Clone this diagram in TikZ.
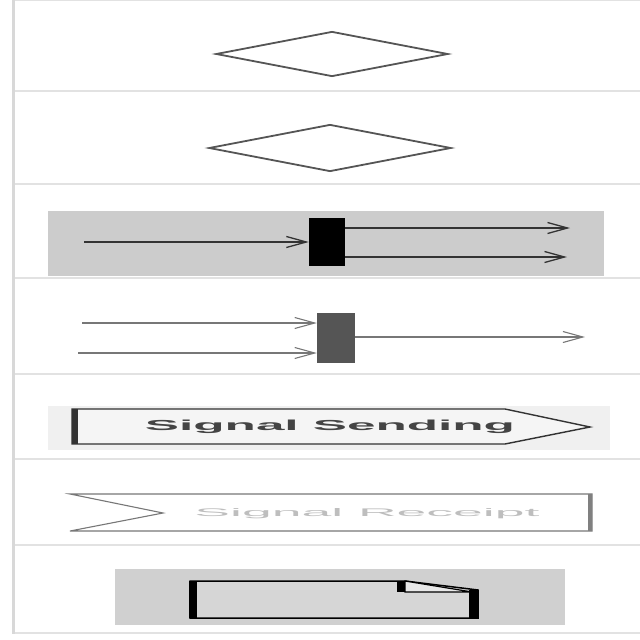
\documentclass[tikz,border=0pt]{standalone}
\usepackage{fontspec}
\setsansfont{Liberation Sans}
\usepackage{graphicx}
\usetikzlibrary{arrows.meta,shapes.geometric}
\definecolor{rowline}{HTML}{E2E2E2}
\definecolor{railgray}{HTML}{D8D8D8}
\definecolor{decgray}{HTML}{555555}
\definecolor{panelgray}{HTML}{CCCCCC}
\definecolor{flowdark}{HTML}{333333}
\definecolor{flowlight}{HTML}{777777}
\definecolor{sendbg}{HTML}{F0F0F0}
\definecolor{sendfill}{HTML}{F5F5F5}
\definecolor{sendtext}{HTML}{444444}
\definecolor{recvtext}{HTML}{BEBEBE}
\definecolor{docbg}{HTML}{D0D0D0}
\definecolor{docfill}{HTML}{D6D6D6}
\definecolor{foldfill}{HTML}{E8E8E8}

\begin{document}
\begin{tikzpicture}[x=1pt,y=-1pt,>={Straight Barb[length=20pt,width=11pt]},
  sep/.style={draw=rowline, line width=1.2pt},
  choice/.style={diamond, draw=decgray, line width=1.8pt, inner sep=0pt},
  bar/.style={rectangle, inner sep=0pt}]
  \useasboundingbox (0,0) rectangle (640,640);
  % rows and rail
  \foreach \y in {0,91,184,278,374,459,545,633}
    \draw[sep] (13,\y) -- (640,\y);
  \draw[railgray, line width=3pt] (13.5,0) -- (13.5,634);

  % decisions
  \node (dec1) [choice, minimum width=232pt, minimum height=45pt] at (332,54) {};
  \node (dec2) [choice, minimum width=242pt, minimum height=47pt] at (330,148) {};

  % fork
  \fill[panelgray] (48,211) rectangle (604,276);
  \node (split) [bar, fill=black, minimum width=36pt, minimum height=48pt] at (327,242) {};
  \coordinate (splitin) at (84,242);
  \coordinate (splitout1) at (570,228);
  \coordinate (splitout2) at (567,257);
  \draw[->, flowdark, line width=1.3pt] (splitin) -- (split);
  \draw[->, flowdark, line width=1.3pt] (split.east |- splitout1) -- (splitout1);
  \draw[->, flowdark, line width=1.3pt] (split.east |- splitout2) -- (splitout2);

  % join
  \node (join) [bar, fill=decgray, minimum width=38pt, minimum height=50pt] at (336,338) {};
  \coordinate (joinin1) at (82,323);
  \coordinate (joinin2) at (78,353);
  \coordinate (joinout) at (585,337);
  \draw[->, flowlight, line width=1.1pt] (joinin1) -- (joinin1 -| join.west);
  \draw[->, flowlight, line width=1.1pt] (joinin2) -- (joinin2 -| join.west);
  \draw[->, flowlight, line width=1.1pt] (join.east |- joinout) -- (joinout);

  % signal sending
  \fill[sendbg] (48,406) rectangle (610,450);
  \filldraw[fill=sendfill, draw=flowdark, line width=1.4pt]
    (72,409) -- (505,409) -- (590,427) -- (505,444) -- (72,444) -- cycle;
  \draw[flowdark, line width=6pt] (75,409) -- (75,444);
  \node (sendlabel) [text=sendtext, font=\sffamily\bfseries] at (330,427)
    {\resizebox{370pt}{10.5pt}{Signal Sending}};

  % signal receipt
  \filldraw[fill=white, draw=flowlight, line width=1.1pt]
    (70,494) -- (592,494) -- (592,531) -- (70,531) -- (163,513) -- cycle;
  \draw[gray, line width=4pt] (589.5,494) -- (589.5,531);
  \node (recvlabel) [text=recvtext, font=\sffamily] at (367,514)
    {\resizebox{345pt}{8pt}{Signal Receipt}};

  % document
  \fill[docbg] (115,569) rectangle (565,625);
  \filldraw[fill=docfill, draw=black, line width=1.5pt]
    (190,581) -- (405,581) -- (478,590) -- (478,618) -- (190,618) -- cycle;
  \filldraw[fill=foldfill, draw=black, line width=1.2pt]
    (405,581) -- (405,592) -- (472,592) -- cycle;
  \draw[black, line width=8pt] (401,581) -- (401,592);
  \draw[black, line width=9pt] (473.5,590) -- (473.5,618);
  \draw[black, line width=8pt] (193,581) -- (193,618);
\end{tikzpicture}
\end{document}
